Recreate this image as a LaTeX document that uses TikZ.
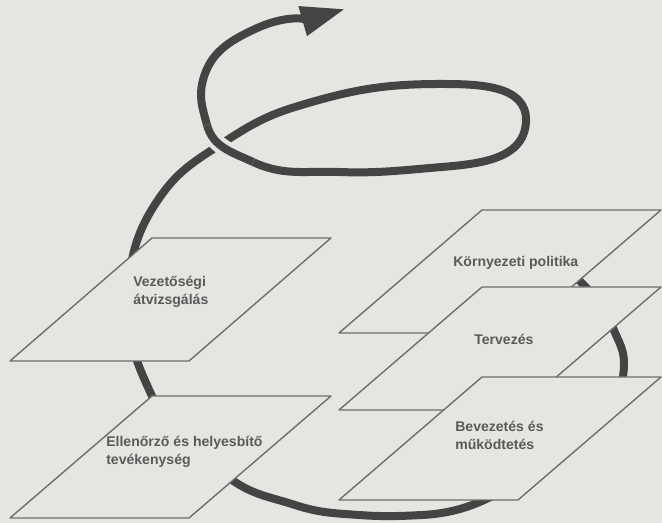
\documentclass[tikz,border=0pt]{standalone}
\usepackage{fontspec}
\setmainfont{Liberation Sans}
\usetikzlibrary{arrows.meta}
\definecolor{paper}{RGB}{229,229,225}
\definecolor{ink}{RGB}{68,68,68}
\definecolor{rim}{RGB}{110,110,110}
\definecolor{txt}{RGB}{90,90,90}

\begin{document}
\begin{tikzpicture}[x=.025cm,y=.025cm,>={Triangle[length=1.1cm,width=.72cm]},
  spiral/.style={draw=ink,line width=.2cm},
  plane/.style={fill=paper,draw=rim,line width=1pt,line join=round},
  planetext/.style={anchor=base west,align=left,inner sep=0pt,text=txt,
    font=\bfseries\fontsize{10}{12.8}\selectfont}]
\fill[paper] (0,0) rectangle (662,523);
\useasboundingbox (0,0) rectangle (662,523);
% spiral, drawn first so the planes hide it
\draw[spiral,->] (560,261) to[out=-45,in=112] (613,195) to[out=-68,in=88] (624,158)
  to[out=-92,in=45] (597,98) to[out=-135,in=30] (530,48) to[out=-150,in=3] (422,8)
  to[out=-177,in=-4] (359,8) to[out=176,in=-18] (295,18) to[out=162,in=-35] (232,43)
  to[out=145,in=-65] (152,127) to[out=115,in=-92] (128,223) to[out=88,in=-125] (160,326)
  to[out=55,in=-147] (218,377) to[out=33,in=-163] (295,416) to[out=17,in=180] (440,439)
  to[out=0,in=88] (526,402) to[out=-92,in=5] (430,355) to[out=-175,in=-2] (338,351)
  to[out=178,in=-25] (253,361) to[out=155,in=-75] (207,398) to[out=105,in=-105] (203,443)
  to[out=75,in=-155] (255,494) to[out=25,in=196] (345,514);
% loop crosses over the rising line
\draw[spiral,preaction={draw=paper,line width=.42cm}] (253,361) to[out=155,in=-75] (207,398);
% planes
\draw[plane] (482,313) -- ++(179,0) -- ++(-143,-123) -- ++(-179,0) -- cycle;
\draw[plane] (482,236) -- ++(179,0) -- ++(-143,-123) -- ++(-179,0) -- cycle;
\draw[plane] (482,146) -- ++(179,0) -- ++(-143,-123) -- ++(-179,0) -- cycle;
\draw[plane] (152,285) -- ++(179,0) -- ++(-142,-123) -- ++(-179,0) -- cycle;
\draw[plane] (152,127) -- ++(179,0) -- ++(-142,-122) -- ++(-179,0) -- cycle;
\node[planetext] (vez) at (133,218) {Vezetőségi\\átvizsgálás};
\node[planetext] (ell) at (106,58) {Ellenőrző és helyesbítő\\tevékenység};
\node[planetext] (kor) at (453,256) {Környezeti politika};
\node[planetext] (ter) at (474,178) {Tervezés};
\node[planetext] (bev) at (455,73) {Bevezetés és\\működtetés};
\end{tikzpicture}
\end{document}
